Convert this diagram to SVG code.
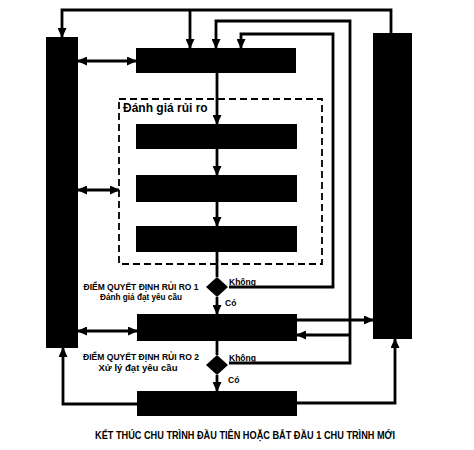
<svg xmlns="http://www.w3.org/2000/svg" width="474" height="450" viewBox="0 0 474 450">
<style>
.blk{fill:#000}
.ln{fill:none;stroke:#000;stroke-width:2.8}
.arr{marker-end:url(#ah)}
.dbl{marker-start:url(#ah);marker-end:url(#ah)}
.t{font-family:"Liberation Sans",Arial,sans-serif;font-weight:bold;fill:#000}
</style>
<defs>
<marker id="ah" markerUnits="userSpaceOnUse" markerWidth="10" markerHeight="9" refX="9" refY="4.5" orient="auto-start-reverse">
<path d="M0,0 L10,4.5 L0,9 z" fill="#000"/>
</marker>
</defs>
<rect width="474" height="450" fill="#fff"/>
<g id="connectors">
<path class="ln arr" d="M391,33 V10 H62 V37"/>
<path class="ln arr" d="M190,10 V48"/>
<path class="ln arr" d="M229,363 H350 V21 H216 V48"/>
<path class="ln arr" d="M229,287 H333 V34 H241 V48"/>
<path class="ln arr" d="M217,73 V124"/>
<path class="ln arr" d="M217,149 V175"/>
<path class="ln arr" d="M217,202 V226"/>
<path class="ln" d="M217,252 V277"/>
<path class="ln arr" d="M217,297 V314"/>
<path class="ln" d="M217,341 V355"/>
<path class="ln arr" d="M217,375 V391"/>
<path class="ln arr" d="M297,320 H373"/>
<path class="ln arr" d="M350,335 H297"/>
<path class="ln arr" d="M137,404 H63 V348"/>
<path class="ln arr" d="M297,403 H395 V339"/>
<path class="ln dbl" d="M78,61 H136"/>
<path class="ln dbl" d="M78,190 H119"/>
<path class="ln dbl" d="M78,331 H137"/>
</g>
<g id="risk-assessment">
<rect x="119" y="99" width="203" height="165" fill="none" stroke="#000" stroke-width="1.8" stroke-dasharray="7,4"/>
<text class="t" x="123" y="112" font-size="12">Đánh giá rủi ro</text>
</g>
<g id="left-box"><rect class="blk" x="46" y="37" width="32" height="311"/></g>
<g id="right-box"><rect class="blk" x="373" y="33" width="39" height="306"/></g>
<g id="box1"><rect class="blk" x="136" y="48" width="160" height="25"/></g>
<g id="box2"><rect class="blk" x="136" y="124" width="161" height="25"/></g>
<g id="box3"><rect class="blk" x="136" y="175" width="161" height="27"/></g>
<g id="box4"><rect class="blk" x="136" y="226" width="161" height="26"/></g>
<g id="box5"><rect class="blk" x="137" y="314" width="160" height="27"/></g>
<g id="box6"><rect class="blk" x="137" y="391" width="160" height="25"/></g>
<g id="decision1">
<path class="blk" d="M217,277 L228,287 L217,297 L206,287 z"/>
<text class="t" x="229" y="285" font-size="8.5">Không</text>
<text class="t" x="225" y="306" font-size="8.5">Có</text>
<text class="t" x="141" y="290" font-size="9.5" text-anchor="middle" textLength="115" lengthAdjust="spacingAndGlyphs">ĐIỂM QUYẾT ĐỊNH RỦI RO 1</text>
<text class="t" x="141" y="300" font-size="9.5" text-anchor="middle" textLength="82" lengthAdjust="spacingAndGlyphs">Đánh giá đạt yêu cầu</text>
</g>
<g id="decision2">
<path class="blk" d="M217,355 L228,365 L217,375 L206,365 z"/>
<text class="t" x="229" y="361" font-size="8.5">Không</text>
<text class="t" x="228" y="383" font-size="8.5">Có</text>
<text class="t" x="141" y="360" font-size="9.5" text-anchor="middle" textLength="116" lengthAdjust="spacingAndGlyphs">ĐIỂM QUYẾT ĐỊNH RỦI RO 2</text>
<text class="t" x="138" y="371" font-size="9.5" text-anchor="middle" textLength="79" lengthAdjust="spacingAndGlyphs">Xử lý đạt yêu cầu</text>
</g>
<g id="caption">
<text class="t" x="245" y="439" font-size="10" text-anchor="middle" textLength="300" lengthAdjust="spacingAndGlyphs">KẾT THÚC CHU TRÌNH ĐẦU TIÊN HOẶC BẮT ĐẦU 1 CHU TRÌNH MỚI</text>
</g>
</svg>
